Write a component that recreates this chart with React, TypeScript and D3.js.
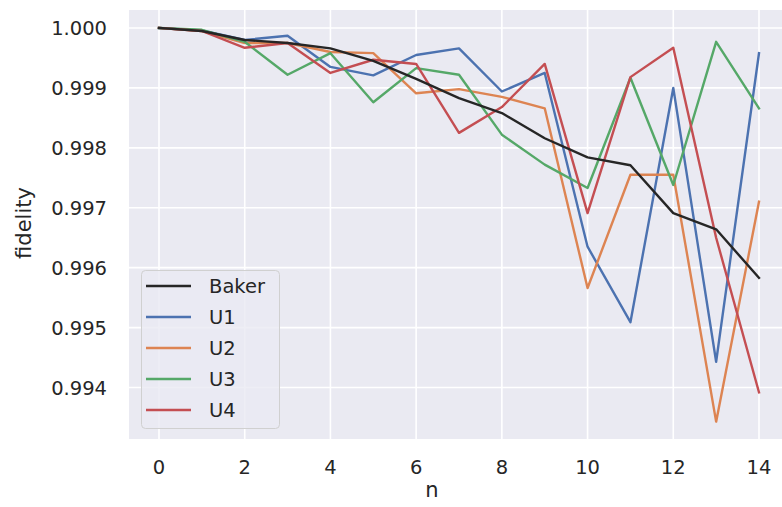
import * as d3 from "d3"
import { useRef, useEffect } from "react"

const nValues = [0, 1, 2, 3, 4, 5, 6, 7, 8, 9, 10, 11, 12, 13, 14]

const baker = [1.0, 0.99995, 0.9998, 0.99975, 0.99966, 0.99945, 0.99915, 0.99883, 0.99858, 0.99816, 0.99784, 0.99771, 0.99691, 0.99664, 0.99583]
const u1 = [1.0, 0.99996, 0.9998, 0.99987, 0.99935, 0.99921, 0.99955, 0.99966, 0.99894, 0.99925, 0.99635, 0.99509, 0.999, 0.99443, 0.99958]
const u2 = [1.0, 0.99995, 0.99975, 0.99975, 0.9996, 0.99958, 0.99891, 0.99898, 0.99885, 0.99866, 0.99566, 0.99755, 0.99755, 0.99343, 0.9971]
const u3 = [1.0, 0.99997, 0.99977, 0.99922, 0.99958, 0.99876, 0.99933, 0.99922, 0.99822, 0.99772, 0.99733, 0.99917, 0.99738, 0.99977, 0.99866]
const u4 = [1.0, 0.99995, 0.99967, 0.99975, 0.99925, 0.99947, 0.9994, 0.99825, 0.99868, 0.9994, 0.99691, 0.99918, 0.99967, 0.9965, 0.99392]

const seriesNames = ["Baker", "U1", "U2", "U3", "U4"]
const seriesColors = ["#262626", "#4c72b0", "#dd8452", "#55a868", "#c44e52"]
const yTicks = [1.0, 0.999, 0.998, 0.997, 0.996, 0.995, 0.994]
const xTicks = [0, 2, 4, 6, 8, 10, 12, 14]

const App = () => {
  const svgRef = useRef(null)
  const width = 782
  const height = 507
  const plotLeft = 129
  const plotRight = 790
  const plotTop = 10
  const plotBottom = 439
  const font = "'DejaVu Sans', sans-serif"
  const textColor = "#262626"

  useEffect(() => {
    const svg = d3.select(svgRef.current)
    svg.selectAll("*").remove()

    const x = d3.scaleLinear().domain([0, 14]).range([159, 759])
    const y = d3.scaleLinear().domain([0.994, 1.0]).range([387.5, 28])

    // background
    svg
      .append("rect")
      .attr("x", plotLeft)
      .attr("y", plotTop)
      .attr("width", plotRight - plotLeft)
      .attr("height", plotBottom - plotTop)
      .attr("fill", "#eaeaf2")

    // grid
    svg
      .append("g")
      .selectAll("line")
      .data(xTicks)
      .join("line")
      .attr("x1", (d) => x(d))
      .attr("x2", (d) => x(d))
      .attr("y1", plotTop)
      .attr("y2", plotBottom)
      .attr("stroke", "white")
      .attr("stroke-width", 1.6)
    svg
      .append("g")
      .selectAll("line")
      .data(yTicks)
      .join("line")
      .attr("x1", plotLeft)
      .attr("x2", plotRight)
      .attr("y1", (d) => y(d))
      .attr("y2", (d) => y(d))
      .attr("stroke", "white")
      .attr("stroke-width", 1.6)

    // tick labels
    svg
      .append("g")
      .selectAll("text")
      .data(xTicks)
      .join("text")
      .attr("x", (d) => x(d))
      .attr("y", 474)
      .attr("text-anchor", "middle")
      .attr("font-family", font)
      .attr("font-size", 19.5)
      .attr("fill", textColor)
      .text((d) => d)
    svg
      .append("g")
      .selectAll("text")
      .data(yTicks)
      .join("text")
      .attr("x", 107)
      .attr("y", (d) => y(d) + 7)
      .attr("text-anchor", "end")
      .attr("font-family", font)
      .attr("font-size", 19.5)
      .attr("fill", textColor)
      .text((d) => d3.format(".3f")(d))

    // axis labels
    svg
      .append("text")
      .attr("x", 432)
      .attr("y", 497)
      .attr("text-anchor", "middle")
      .attr("font-family", font)
      .attr("font-size", 21)
      .attr("fill", textColor)
      .text("n")
    svg
      .append("text")
      .attr("transform", `translate(31, 223) rotate(-90)`)
      .attr("text-anchor", "middle")
      .attr("font-family", font)
      .attr("font-size", 21)
      .attr("fill", textColor)
      .text("fidelity")

    // lines
    const allSeries = [baker, u1, u2, u3, u4]
    const line = d3
      .line()
      .x((d, i) => x(nValues[i]))
      .y((d) => y(d))
    const order = [1, 2, 3, 4, 0]
    order.forEach((k) => {
      svg
        .append("path")
        .attr("d", line(allSeries[k]))
        .attr("fill", "none")
        .attr("stroke", seriesColors[k])
        .attr("stroke-width", 2.4)
        .attr("stroke-linejoin", "round")
        .attr("stroke-linecap", "square")
    })

    // legend
    const legend = svg.append("g")
    legend
      .append("rect")
      .attr("x", 141.5)
      .attr("y", 270.5)
      .attr("width", 138)
      .attr("height", 158)
      .attr("rx", 4)
      .attr("fill", "#eaeaf2")
      .attr("fill-opacity", 0.8)
      .attr("stroke", "#d0d0d0")
      .attr("stroke-width", 1)
    seriesNames.forEach((name, i) => {
      const cy = 286 + i * 31
      legend
        .append("line")
        .attr("x1", 146)
        .attr("x2", 191)
        .attr("y1", cy)
        .attr("y2", cy)
        .attr("stroke", seriesColors[i])
        .attr("stroke-width", 2.4)
      legend
        .append("text")
        .attr("x", 209)
        .attr("y", cy + 7)
        .attr("font-family", font)
        .attr("font-size", 19.5)
        .attr("fill", textColor)
        .text(name)
    })
  }, [])

  return (
    <svg
      ref={svgRef}
      width={width}
      height={height}
      style={{ position: "absolute", left: 0, top: 0, background: "white" }}
    ></svg>
  )
}

export default App
